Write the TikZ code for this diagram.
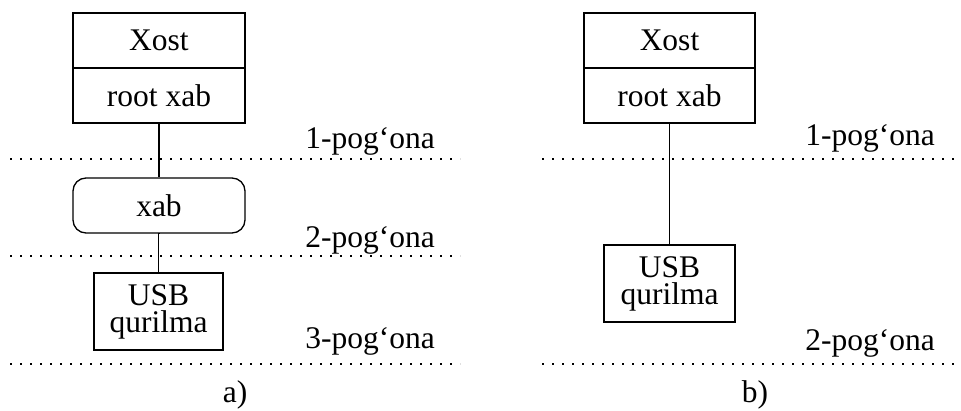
\documentclass[tikz,border=0pt]{standalone}
\usepackage{fontspec}
\setmainfont{Liberation Serif}
\begin{document}
\begin{tikzpicture}[x=1pt,y=-1pt,
  every node/.style={font=\fontsize{31.5}{27}\selectfont, inner sep=0pt},
  cell/.style={draw, line width=1.3pt, minimum height=55pt, align=center},
  dev/.style={draw, line width=1.3pt, minimum height=77pt, align=center},
  link/.style={line width=1.3pt},
  level/.style={line width=1.6pt, dash pattern=on 1.6pt off 8.4pt},
  lbl/.style={anchor=base}]
\useasboundingbox (0,0) rectangle (961,410);

% ---- a) host -> hub -> device
\node[cell, minimum width=172pt] (xa) at (159,40.5) {Xost};
\node[cell, minimum width=172pt] (ra) at (159,95.5) {root xab};
\node[cell, minimum width=172pt, rounded corners=13pt] (hub) at (159,205.5) {xab};
\node[dev, minimum width=129pt] (ua) at (158.5,311.5) {USB\\qurilma};
\draw[link] (ra.south) -- (hub.north);
\draw[link] (hub.south) -- (ua.north |- hub.south) -- (ua.north);

\draw[level] (10,159) -- (460,159);
\draw[level] (10,256) -- (460,256);
\draw[level] (10,364) -- (460,364);
\node[lbl] (la1) at (370,148) {1-pog‘ona};
\node[lbl] (la2) at (370,247) {2-pog‘ona};
\node[lbl] (la3) at (370,348) {3-pog‘ona};
\node[lbl] (capa) at (235,402) {a)};

% ---- b) host -> device
\node[cell, minimum width=171pt] (xb) at (669.5,40.5) {Xost};
\node[cell, minimum width=171pt] (rb) at (669.5,95.5) {root xab};
\node[dev, minimum width=131pt] (ub) at (669.5,283.5) {USB\\qurilma};
\draw[link] (rb.south) -- (ub.north);

\draw[level] (542,159) -- (961,159);
\draw[level] (542,364) -- (961,364);
\node[lbl] (lb1) at (870,145) {1-pog‘ona};
\node[lbl] (lb2) at (870,350) {2-pog‘ona};
\node[lbl] (capb) at (755,402) {b)};
\end{tikzpicture}
\end{document}
